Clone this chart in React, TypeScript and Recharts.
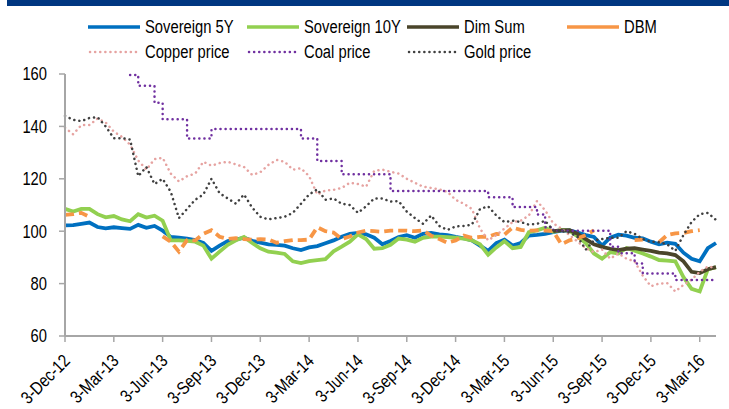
import React from "react";
import { LineChart, Line, XAxis, YAxis } from "recharts";

const FONT = "'Liberation Sans Narrow', 'Arial Narrow', 'Liberation Sans', Arial, sans-serif";
// no narrow face installed, so squeeze the regular one
const SQUEEZE = 0.82;

// semi-monthly sample dates
const dates = [
  "3-Dec-12", "18-Dec-12", "3-Jan-13", "18-Jan-13", "3-Feb-13", "18-Feb-13",
  "3-Mar-13", "18-Mar-13", "3-Apr-13", "18-Apr-13", "3-May-13", "18-May-13",
  "3-Jun-13", "18-Jun-13", "3-Jul-13", "18-Jul-13", "3-Aug-13", "18-Aug-13",
  "3-Sep-13", "18-Sep-13", "3-Oct-13", "18-Oct-13", "3-Nov-13", "18-Nov-13",
  "3-Dec-13", "18-Dec-13", "3-Jan-14", "18-Jan-14", "3-Feb-14", "18-Feb-14",
  "3-Mar-14", "18-Mar-14", "3-Apr-14", "18-Apr-14", "3-May-14", "18-May-14",
  "3-Jun-14", "18-Jun-14", "3-Jul-14", "18-Jul-14", "3-Aug-14", "18-Aug-14",
  "3-Sep-14", "18-Sep-14", "3-Oct-14", "18-Oct-14", "3-Nov-14", "18-Nov-14",
  "3-Dec-14", "18-Dec-14", "3-Jan-15", "18-Jan-15", "3-Feb-15", "18-Feb-15",
  "3-Mar-15", "18-Mar-15", "3-Apr-15", "18-Apr-15", "3-May-15", "18-May-15",
  "3-Jun-15", "18-Jun-15", "3-Jul-15", "18-Jul-15", "3-Aug-15", "18-Aug-15",
  "3-Sep-15", "18-Sep-15", "3-Oct-15", "18-Oct-15", "3-Nov-15", "18-Nov-15",
  "3-Dec-15", "18-Dec-15", "3-Jan-16", "18-Jan-16", "3-Feb-16", "18-Feb-16",
  "3-Mar-16", "18-Mar-16", "3-Apr-16",
];

const sovereign5Y = [
  102.2, 102.3, 102.8, 103.3, 101.6, 101.1, 101.5, 101.2, 100.9, 102.4,
  101.3, 102, 100.2, 97.8, 97.5, 97.2, 96.6, 95.5, 92.5, 94.5,
  96.2, 96.8, 97.5, 96.3, 95.6, 95, 94.8, 94.5, 93.5, 92.8,
  93.8, 94.3, 95.4, 96.5, 97.9, 99, 99.3, 98.8, 97.5, 95,
  96.3, 97.8, 98.5, 97.5, 99, 99.3, 98.8, 98.5, 97.8, 97.3,
  96.5, 94.5, 92.5, 95.5, 96.8, 94.5, 95.5, 98.3, 98.6, 99,
  99.6, 100.2, 100.3, 99.5, 98.5, 97.8, 94.5, 97.5, 98.7, 98.3,
  97.5, 97.3, 96, 95, 95.6, 95.2, 91.8, 89.5, 88.5, 93.5,
  95.5,
];

const sovereign10Y = [
  108.5, 107.5, 108.5, 108.5, 106.5, 105.3, 105.8, 104.5, 103.8, 106.5,
  105.2, 105.9, 104, 96.5, 96.5, 96.3, 96, 94.5, 89.5, 92.2,
  94.8, 96.5, 97.8, 95.5, 93.5, 92.2, 91.8, 91.3, 88.5, 87.8,
  88.6, 89, 89.3, 92.3, 94.1, 96, 98.8, 97, 93.3, 93.5,
  94.8, 97.2, 96.8, 96, 97.5, 97.9, 97.9, 97.7, 97.5, 97.2,
  96.5, 95, 91, 93.8, 96.2, 93.5, 94, 99.6, 100.3, 101.3,
  99.8, 100.5, 100.2, 98, 95.5, 91.5, 89.5, 92, 91.5, 93.6,
  92.6, 91.5, 90.3, 89, 88.8, 88.5, 82.5, 78, 77, 85.5,
  86.2,
];

const dimSum = [
  null, null, null, null, null, null, null, null, null, null,
  null, null, null, null, null, null, null, null, null, null,
  null, null, null, null, null, null, null, null, null, null,
  null, null, null, null, null, null, null, null, null, null,
  null, null, null, null, null, null, null, null, null, null,
  null, null, null, null, null, null, null, null, null, null,
  100, 100.3, 100.4, 99, 97, 95, 94, 93.3, 92.8, 93.3,
  93.5, 93, 92.5, 91.8, 91.5, 90.9, 88.5, 84.5, 84, 85.5,
  86.3,
];

const dbm = [
  106.2, 106.5, 107, 105.5, null, null, null, null, null, null,
  null, null, 98, 96, 92.2, 96.6, 96.5, 99, 100.4, 97.9,
  97, 97.3, 97, 96.8, 97, 96.8, 95.6, 96.2, 96.6, 96.6,
  96.8, 101.5, 100, 99.5, 97, 98, 99.5, 100.2, 100, 99.8,
  100.2, 100.2, 100.2, 100, 100.3, 98.3, 97, 95.6, 96.5, 98.3,
  97.5, 97.8, 97.9, 99, 98.7, 101.4, 100.5, 100.2, 100.3, 100.2,
  100, 95, 96.5, 97.3, 98.5, 100.3, null, null, null, null,
  96.6, 96.8, null, 95.8, 98.5, 99.2, 99.3, 100, 100.4, null,
  null,
];

const copperPrice = [
  139.5, 137, 140.5, 140.5, 143, 141.5, 138, 136, 133, 127,
  123.5, 127.5, 128, 122, 119, 121, 122, 126.5, 125, 126,
  126.5, 125.5, 124.5, 121.5, 122.5, 125.3, 127.2, 126.5, 123.5, 124,
  121, 114, 115.5, 115.8, 116.5, 118.5, 118, 117, 123, 123.5,
  122.7, 122, 120, 118.5, 117, 116.5, 116, 115, 112, 110.5,
  108.5, 101, 96.5, 98.5, 101, 103.5, 104, 106, 111.5, 108,
  103, 101, 98.5, 96, 93.5, 92, 93, 89.5, 91.5, 89.5,
  88.5, 83, 79, 80, 80.2, 77, 79.5, 81.5, 84.5, 86.5,
  86,
];

const coalPrice = [
  null, null, null, null, null, null, null, null, 159.6, 155.5,
  155.5, 149, 142.7, 142.7, 142.7, 135.4, 135.4, 135.4, 139, 139,
  139, 139, 139, 139, 139, 139, 139, 139, 139, 135.4,
  135.4, 126.8, 126.8, 126.8, 121.7, 121.7, 121.7, 121.7, 121.7, 121.7,
  115.3, 115.3, 115.3, 115.3, 115.3, 115.3, 115.3, 115.3, 115.3, 115.3,
  115.3, 115.3, 113, 113, 113, 109.2, 109.2, 109.2, 106.4, 101.5,
  100.2, 100.2, 100.2, 100.2, 100.2, 100.2, 100.2, 94.1, 91.6, 91.6,
  87.7, 83.9, 83.9, 83.9, 83.9, 81.4, 81.4, 81.4, 81.4, 81.4,
  81.4,
];

const goldPrice = [
  144, 142.5, 142, 143.2, 143.5, 140, 135.5, 135.5, 135, 121,
  124.5, 118, 120, 115, 105, 108.5, 112, 114, 120, 114.5,
  112.5, 110.5, 114, 109, 105.5, 104.5, 105, 105.5, 107, 110.5,
  114, 116, 112, 112.5, 110.5, 110, 107, 109.5, 112.5, 112.5,
  111.3, 111.5, 107.5, 105, 102.8, 106, 102, 100.5, 101.8, 102,
  102.5, 108.5, 109.5, 106, 103.5, 104, 103.5, 102.5, 102.8, 104,
  100.3, 100, 99.5, 97.8, 93, 96.5, 97, 97.5, 97.5, 100,
  99, 97, 96, 95.8, 95, 92.5, 98.5, 103.5, 106.5, 107,
  104.3,
];

const yTicks = [60, 80, 100, 120, 140, 160];

const data = dates.map((d, i) => ({
  date: d,
  s5: sovereign5Y[i],
  s10: sovereign10Y[i],
  dim: dimSum[i],
  dbm: dbm[i],
  copper: copperPrice[i],
  coal: coalPrice[i],
  gold: goldPrice[i],
}));

const legendItems = [
  { name: "Sovereign 5Y", color: "#0070C0", dotted: false, left: 88, top: 27 },
  { name: "Sovereign 10Y", color: "#92D050", dotted: false, left: 247, top: 27 },
  { name: "Dim Sum", color: "#4A452A", dotted: false, left: 407, top: 27 },
  { name: "DBM", color: "#F79646", dotted: false, left: 567, top: 27 },
  { name: "Copper price", color: "#E6A3A1", dotted: true, left: 88, top: 52 },
  { name: "Coal price", color: "#7030A0", dotted: true, left: 247, top: 52 },
  { name: "Gold price", color: "#404040", dotted: true, left: 407, top: 52 },
];

const LegendBox = () => (
  <>
    {legendItems.map((it) => (
      <div key={it.name} style={{ position: "absolute", left: it.left, top: it.top - 11, height: 22, display: "flex", alignItems: "center" }}>
        <svg width={54} height={8} style={{ flex: "none" }}>
          {it.dotted ? (
            <line x1={2} y1={4} x2={52} y2={4} stroke={it.color} strokeWidth={2.5} strokeDasharray="0.1 5" strokeLinecap="round" />
          ) : (
            <line x1={0} y1={4} x2={52} y2={4} stroke={it.color} strokeWidth={3.5} />
          )}
        </svg>
        <span
          style={{
            fontFamily: FONT, fontSize: 18, color: "#000", marginLeft: 3, whiteSpace: "nowrap",
            display: "inline-block", transform: `scaleX(${SQUEEZE})`, transformOrigin: "left center",
          }}
        >
          {it.name}
        </span>
      </div>
    ))}
  </>
);

const XTick = (props: any) => {
  const { x, y, payload } = props;
  return (
    <g transform={`translate(${x - 3},${y + 11})`}>
      <text textAnchor="end" transform={`rotate(-45) scale(${SQUEEZE},1)`} dy="0.71em" fontFamily={FONT} fontSize={18} fill="#000">
        {payload.value}
      </text>
    </g>
  );
};

const YTick = (props: any) => {
  const { x, y, payload } = props;
  return (
    <g transform={`translate(${x},${y})`}>
      <text textAnchor="end" transform={`scale(${SQUEEZE},1)`} dy="0.36em" fontFamily={FONT} fontSize={18} fill="#000">
        {payload.value}
      </text>
    </g>
  );
};

const axisGray = "#A6A6A6";

export default function App() {
  return (
    <div style={{ position: "absolute", left: 0, top: 0, width: 729, height: 409, background: "#fff" }}>
      <div style={{ position: "absolute", left: 7, top: 0, width: 722, height: 6, background: "#003781" }} />
      <LegendBox />
      <div style={{ position: "absolute", left: 0, top: 0 }}>
        <LineChart width={729} height={409} data={data} margin={{ top: 74, right: 13, bottom: 0, left: 0 }}>
          <XAxis
            dataKey="date"
            scale="point"
            padding={{ left: 0, right: 0 }}
            interval={5}
            tickSize={6}
            tickMargin={0}
            tick={<XTick />}
            axisLine={{ stroke: axisGray, strokeWidth: 2 }}
            tickLine={{ stroke: axisGray, strokeWidth: 1.5 }}
            height={73}
          />
          <YAxis
            domain={[60, 160]}
            ticks={yTicks}
            interval={0}
            width={65}
            tickSize={6}
            tickMargin={12}
            tick={<YTick />}
            axisLine={{ stroke: axisGray, strokeWidth: 2 }}
            tickLine={{ stroke: axisGray, strokeWidth: 1.5 }}
          />
          <Line dataKey="s5" name="Sovereign 5Y" stroke="#0070C0" strokeWidth={3.8} dot={false} isAnimationActive={false} />
          <Line dataKey="s10" name="Sovereign 10Y" stroke="#92D050" strokeWidth={3.8} dot={false} isAnimationActive={false} />
          <Line dataKey="dim" name="Dim Sum" stroke="#4A452A" strokeWidth={3.8} dot={false} isAnimationActive={false} />
          <Line dataKey="dbm" name="DBM" stroke="#F79646" strokeWidth={3.8} strokeDasharray="9 5" dot={false} isAnimationActive={false} />
          <Line dataKey="copper" name="Copper price" stroke="#E6A3A1" strokeWidth={2.5} strokeDasharray="0.1 5" strokeLinecap="round" dot={false} isAnimationActive={false} />
          <Line type="stepAfter" dataKey="coal" name="Coal price" stroke="#7030A0" strokeWidth={2.5} strokeDasharray="0.1 5" strokeLinecap="round" dot={false} isAnimationActive={false} />
          <Line dataKey="gold" name="Gold price" stroke="#404040" strokeWidth={2.5} strokeDasharray="0.1 5" strokeLinecap="round" dot={false} isAnimationActive={false} />
        </LineChart>
      </div>
    </div>
  );
}
